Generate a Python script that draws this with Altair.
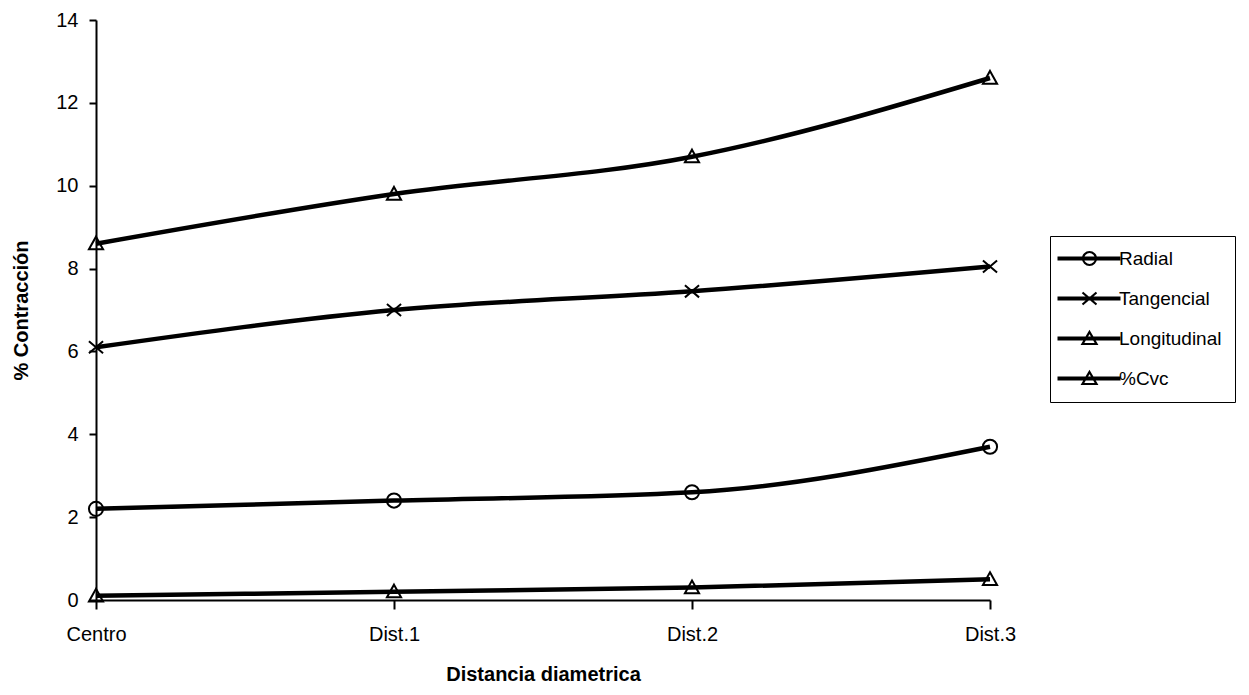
import altair as alt
import pandas as pd

categories = ["Centro", "Dist.1", "Dist.2", "Dist.3"]
series_names = ["Radial", "Tangencial", "Longitudinal", "%Cvc"]
radial = [2.2, 2.4, 2.6, 3.7]
tangencial = [6.1, 7.0, 7.45, 8.05]
longitudinal = [0.1, 0.2, 0.3, 0.5]
cvc = [8.6, 9.8, 10.7, 12.6]
y_ticks = [0, 2, 4, 6, 8, 10, 12, 14]

rows = []
for name, vals in zip(series_names, [radial, tangencial, longitudinal, cvc]):
    for c, v in zip(categories, vals):
        rows.append({"dist": c, "serie": name, "valor": v})
df = pd.DataFrame(rows)

FONT = "Liberation Sans"

x_enc = alt.X(
    "dist:N",
    scale=alt.Scale(type="point", domain=categories, padding=0),
    axis=alt.Axis(
        title="Distancia diametrica", labelAngle=0, labelFont=FONT, labelFontSize=20,
        labelColor="black", titleFont=FONT, titleFontSize=20, titleFontWeight="bold",
        titleColor="black", titlePadding=20, domainColor="black", domainWidth=2,
        tickColor="black", tickWidth=2, tickSize=9, labelPadding=15, grid=False,
    ),
)
y_enc = alt.Y(
    "valor:Q",
    scale=alt.Scale(domain=[0, 14], nice=False),
    axis=alt.Axis(
        title="% Contracción", values=y_ticks, labelFont=FONT, labelFontSize=20,
        labelColor="black", titleFont=FONT, titleFontSize=20, titleFontWeight="bold",
        titleColor="black", titlePadding=24, domainColor="black", domainWidth=2,
        tickColor="black", tickWidth=2, tickSize=7, labelPadding=11, grid=False,
    ),
)

X_PATH = "M-1,-0.85 L1,0.85 M-1,0.85 L1,-0.85"
TRI_PATH = "M0,-1 L1,0.8 L-1,0.8 Z"

lines = alt.Chart(df).mark_line(
    color="black", strokeWidth=4.5, interpolate="monotone"
).encode(x=x_enc, y=y_enc, detail="serie:N")

points = alt.Chart(df).mark_point(
    filled=False, color="black", strokeWidth=2, size=200, opacity=1
).encode(
    x=x_enc, y=y_enc,
    shape=alt.Shape("serie:N",
                    scale=alt.Scale(domain=series_names,
                                    range=["circle", X_PATH, TRI_PATH, TRI_PATH]),
                    legend=None),
)

LINE = "M-6.4,-0.2 H6.2 M-6.4,0.2 H6.2 "
legend_paths = [
    LINE + "M-1.3,0 A1.3,1.3 0 1,1 1.3,0 A1.3,1.3 0 1,1 -1.3,0",
    LINE + "M-1.4,-1.2 L1.4,1.2 M-1.4,1.2 L1.4,-1.2",
    LINE + "M0,-1.3 L1.4,1.1 L-1.4,1.1 Z",
    LINE + "M0,-1.3 L1.4,1.1 L-1.4,1.1 Z",
]

legend_layer = alt.Chart(df).mark_point(
    filled=False, color="black", strokeWidth=2.2, opacity=1
).encode(
    shape=alt.Shape("serie:N",
                    scale=alt.Scale(domain=series_names, range=legend_paths),
                    legend=alt.Legend(
                        title=None, orient="none", legendX=954, legendY=216,
                        padding=13, strokeColor="black", fillColor="white",
                        symbolSize=100, symbolStrokeWidth=2.2, symbolOffset=17,
                        symbolStrokeColor="black", symbolOpacity=1,
                        labelOffset=20, labelFont=FONT, labelFontSize=19,
                        labelColor="black", rowPadding=18, labelLimit=300,
                    )),
).transform_filter("false")

chart = alt.layer(lines, points, legend_layer).resolve_scale(
    shape="independent"
).properties(
    width=894, height=580,
    padding={"left": 96, "top": 20, "right": 259, "bottom": 95},
    autosize=alt.AutoSizeParams(type="none"),
    background="white",
).configure_view(stroke=None)

chart.save("out.html", embed_options={"renderer": "svg", "actions": False})
